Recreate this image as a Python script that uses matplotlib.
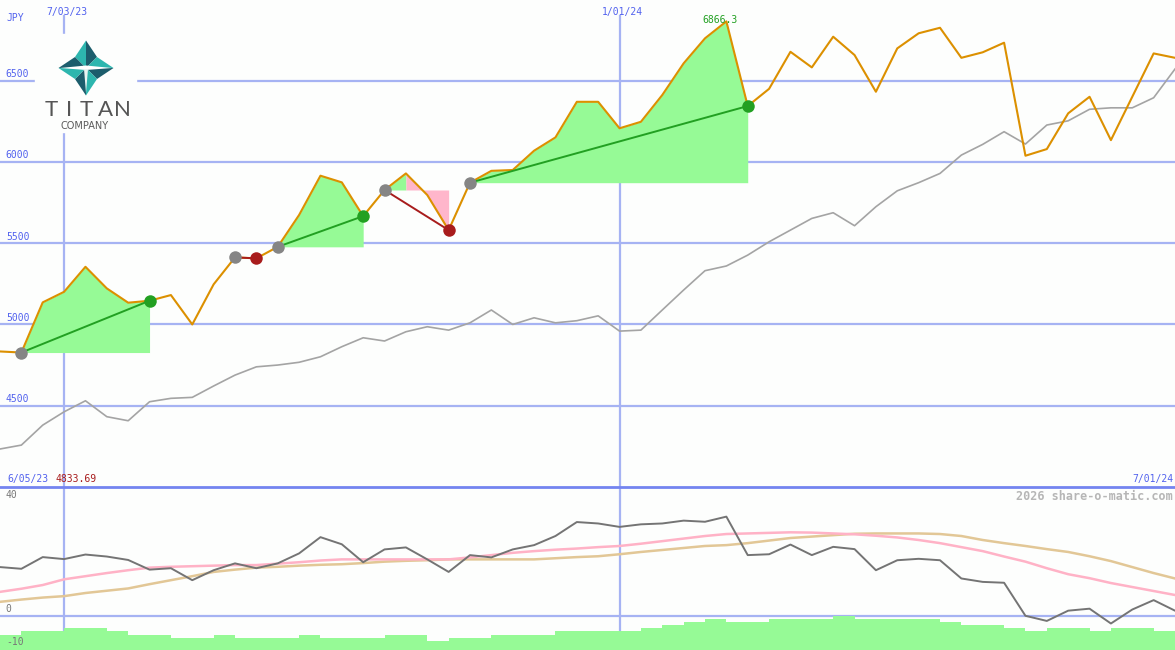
import matplotlib.pyplot as plt
from matplotlib.patches import Polygon, Rectangle

# ==========================================
# DATA (weekly points, 6/05/23 ... 7/01/24)
# ==========================================

price = [4833.69, 4827, 5136, 5201, 5355, 5222, 5134, 5146, 5181, 5000,
         5247, 5413, 5407, 5478, 5674, 5916, 5875, 5667, 5828, 5930,
         5797, 5581, 5873, 5946, 5951, 6070, 6152, 6371, 6371, 6208,
         6248, 6413, 6608, 6762, 6866.3, 6345, 6451, 6679, 6583, 6772,
         6659, 6433, 6700, 6793, 6827, 6642, 6676, 6735, 6039, 6080,
         6300, 6402, 6135, 6402, 6669, 6642]

index_line = [4233, 4257, 4380, 4462, 4530, 4432, 4407, 4524, 4545, 4551,
              4621, 4688, 4739, 4750, 4767, 4801, 4863, 4918, 4898, 4955,
              4986, 4965, 5010, 5089, 5000, 5041, 5010, 5023, 5053, 4959,
              4965, 5089, 5212, 5331, 5360, 5427, 5509, 5581, 5653, 5688,
              5608, 5725, 5823, 5873, 5930, 6043, 6109, 6187, 6111, 6228,
              6254, 6325, 6334, 6334, 6396, 6573]

osc = [17.1, 16.5, 20.6, 19.9, 21.5, 20.8, 19.6, 16.2, 16.7, 12.5,
       16.0, 18.4, 16.7, 18.4, 21.9, 27.6, 25.1, 18.8, 23.3, 24.0,
       19.8, 15.4, 21.3, 20.5, 23.3, 24.8, 28.0, 32.9, 32.4, 31.2,
       32.1, 32.4, 33.4, 33.0, 34.8, 21.3, 21.6, 25.0, 21.3, 24.2,
       23.4, 16.0, 19.5, 20.0, 19.5, 13.1, 11.9, 11.6, 0.0, -1.8,
       1.8, 2.5, -2.7, 2.2, 5.5, 1.8]

osc_fast = [8.4, 9.5, 10.8, 12.8, 13.9, 15.0, 16.0, 16.9, 17.2, 17.4,
            17.6, 17.8, 17.8, 18.3, 18.8, 19.4, 19.8, 19.8, 19.8, 19.8,
            19.8, 19.8, 20.5, 21.3, 22.1, 22.7, 23.2, 23.6, 24.1, 24.5,
            25.3, 26.2, 27.1, 28.0, 28.7, 28.9, 29.1, 29.3, 29.2, 28.9,
            28.6, 28.1, 27.5, 26.6, 25.5, 24.1, 22.7, 20.8, 19.0, 16.7,
            14.6, 13.2, 11.5, 10.1, 8.7, 7.3]

osc_slow = [4.9, 5.7, 6.4, 6.9, 8.0, 8.8, 9.6, 11.1, 12.5, 13.9,
            15.4, 16.2, 16.9, 17.2, 17.6, 17.9, 18.1, 18.5, 19.0, 19.3,
            19.5, 19.8, 19.8, 19.8, 19.8, 19.8, 20.2, 20.6, 20.9, 21.6,
            22.4, 23.1, 23.8, 24.5, 24.8, 25.5, 26.4, 27.3, 27.8, 28.3,
            28.8, 28.9, 28.9, 28.9, 28.7, 28.0, 26.6, 25.5, 24.5, 23.4,
            22.4, 20.9, 19.2, 17.1, 15.0, 13.1]

# histogram bars between consecutive weeks
bar_top = [-6.8, -5.4, -5.4, -4.2, -4.2, -5.4, -6.8, -6.8, -7.7, -7.7,
           -6.8, -7.7, -7.7, -7.7, -6.8, -7.7, -7.7, -7.7, -6.8, -6.8,
           -8.9, -7.7, -7.7, -6.8, -6.8, -6.8, -5.4, -5.4, -5.4, -5.4,
           -4.2, -3.3, -2.2, -1.2, -2.2, -2.2, -1.2, -1.2, -1.2, -0.1,
           -1.2, -1.2, -1.2, -1.2, -2.2, -3.3, -3.3, -4.2, -5.4, -4.2,
           -4.2, -5.4, -4.2, -4.2, -5.4]

trade_entry = [1, 11, 13, 18, 22]
trade_exit = [7, 12, 17, 21, 35]

price_ticks = [4500, 5000, 5500, 6000, 6500]
osc_ticks = [40, 0, -10]
date_pos = [3, 29]
date_labels = ["7/03/23", "1/01/24"]

# ==========================================
# STYLE
# ==========================================

BG = "#fdfefd"
GRID = "#a6b3f3"
LABEL = "#5262ee"
ORANGE = "#dc9000"
GREEN = "#22a022"
RED = "#a81c1c"
GREEN_FILL = "#96fa96"
PINK_FILL = "#ffb6cb"
MONO = "DejaVu Sans Mono"

fig = plt.figure(figsize=(11.75, 6.5), dpi=100, facecolor=BG)

ax = fig.add_axes([0, 163 / 650, 1, 487 / 650])
ax2 = fig.add_axes([0, 0, 1, 163 / 650])
for a in (ax, ax2):
    a.set_facecolor("none")
    a.axis("off")
    a.set_xlim(0, len(price) - 1)

ax.set_ylim(3999, 6998)
ax2.set_ylim(-12, 45.2)

# ==========================================
# MAIN PANEL
# ==========================================

for p in price_ticks:
    ax.axhline(p, color=GRID, lw=1.6, zorder=1)
    ax.annotate(str(p), xy=(0.005, p), xycoords=("axes fraction", "data"),
                xytext=(0, 1.2), textcoords="offset points", va="bottom",
                ha="left", color=LABEL, fontsize=7, family=MONO)

for d, lab in zip(date_pos, date_labels):
    ax.axvline(d, ymax=1 - 16 / 487, color=GRID, lw=1.6, zorder=1)
    ax2.axvline(d, color=GRID, lw=1.6, zorder=1)
    ax.annotate(lab, xy=(d, 1), xycoords=("data", "axes fraction"),
                xytext=(2, -9), textcoords="offset points", va="center",
                ha="center", color=LABEL, fontsize=7, family=MONO)

ax.plot(range(len(index_line)), index_line, color="#a4a4a4", lw=1.2, zorder=2)

# trade areas, coloured by where each weekly segment ends
for e, x in zip(trade_entry, trade_exit):
    level = price[e]
    start = e
    for i in range(e, x):
        up = price[i + 1] >= level
        if i + 1 == x or (price[i + 2] >= level) != up:
            xs = list(range(start, i + 2))
            ax.fill_between(xs, [price[k] for k in xs], level,
                            color=GREEN_FILL if up else PINK_FILL,
                            lw=0, zorder=2)
            start = i + 1

ax.plot(range(len(price)), price, color=ORANGE, lw=1.5, zorder=3)

for e, x in zip(trade_entry, trade_exit):
    win = price[x] >= price[e]
    ax.plot([e, x], [price[e], price[x]], color=GREEN if win else RED,
            lw=1.4, zorder=4)
    ax.plot(e, price[e], "o", ms=9, color="#858585", mec="none", zorder=5)
    ax.plot(x, price[x], "o", ms=9, color=GREEN if win else RED,
            mec="none", zorder=5)

peak = max(range(trade_entry[-1], trade_exit[-1] + 1), key=lambda k: price[k])
ax.annotate(str(price[peak]), xy=(peak, price[peak]), xytext=(-4.5, 1),
            textcoords="offset points", ha="center", va="center",
            color=GREEN, fontsize=7, family=MONO, zorder=6)

# ==========================================
# LOWER PANEL
# ==========================================

ax2.axhline(0, color=GRID, lw=1.6, zorder=1)
ax2.bar(range(len(bar_top)), [t + 12 for t in bar_top], bottom=-12,
        width=1, align="edge", color=GREEN_FILL, lw=0, zorder=2)
ax2.plot(range(len(osc_slow)), osc_slow, color="#e2c796", lw=1.8, zorder=3)
ax2.plot(range(len(osc_fast)), osc_fast, color="#ffb2c6", lw=1.8, zorder=3)
ax2.plot(range(len(osc)), osc, color="#747474", lw=1.4, zorder=4)
ax2.axhline(45.2, color="#7484f0", lw=2, clip_on=False, zorder=5)

for t in osc_ticks:
    ax2.annotate(str(t), xy=(0.005, t), xycoords=("axes fraction", "data"),
                 xytext=(0, 1.5 if t == -10 else 1.2),
                 textcoords="offset points",
                 va="center" if t == -10 else "bottom",
                 ha="left", color="#777777", fontsize=7, family=MONO, zorder=6)

# ==========================================
# TEXT AND LOGO (pixel overlay)
# ==========================================

ov = fig.add_axes([0, 0, 1, 1])
ov.set_xlim(0, 1175)
ov.set_ylim(650, 0)
ov.axis("off")
ov.set_facecolor("none")

ov.text(6, 18, "JPY", color=LABEL, fontsize=7, family=MONO, va="center")
ov.text(7, 479, "6/05/23", color=LABEL, fontsize=7, family=MONO, va="center")
ov.text(55, 479, f"{price[0]:.2f}", color=RED, fontsize=7, family=MONO,
        va="center")
ov.text(1173, 479, "7/01/24", color=LABEL, fontsize=7, family=MONO,
        va="center", ha="right")
ov.text(1173, 496, "2026 share-o-matic.com", color="#b6b6b6", fontsize=8.5,
        family=MONO, weight="bold", va="center", ha="right")

ov.add_patch(Rectangle((35, 34), 101, 98, color=BG, zorder=1))
cx, cy = 86, 68
top, bot, lef, rig = (cx, 40.5), (cx, 95.5), (58.5, 68), (113.5, 68)
k = 11
ul, ur, ll, lr = (cx - k, cy - k), (cx + k, cy - k), (cx - k, cy + k), (cx + k, cy + k)
light, dark = "#2db6ae", "#1c5d6c"
facets = [([ul, top, (cx, cy)], light), ([(cx, cy), top, ur], dark),
          ([ur, rig, (cx, cy)], light), ([(cx, cy), rig, lr], dark),
          ([lr, bot, (cx, cy)], light), ([(cx, cy), bot, ll], dark),
          ([ll, lef, (cx, cy)], light), ([(cx, cy), lef, ul], dark)]
for pts, col in facets:
    ov.add_patch(Polygon(pts, closed=True, color=col, lw=0, zorder=2))
ov.add_patch(Polygon([(60, 68), (cx, 65.5), (112, 68), (cx, 70)],
                     closed=True, color="white", lw=0, zorder=3))
ov.add_patch(Polygon([(cx - 2, 69), (cx + 2, 69), (cx, 93)],
                     closed=True, color="#e8f4f2", lw=0, zorder=3))

for ch, xx in zip("TITAN", [51, 69, 86.5, 105, 122.5]):
    ov.text(xx, 110, ch, color="#555555", fontsize=16, family="Lato",
            ha="center", va="center", zorder=3)
ov.text(85, 126, "COMPANY", color="#5a5a5a", fontsize=7, family="DejaVu Sans",
        ha="center", va="center", zorder=3)

fig.savefig("out.png", dpi=100, facecolor=BG)
